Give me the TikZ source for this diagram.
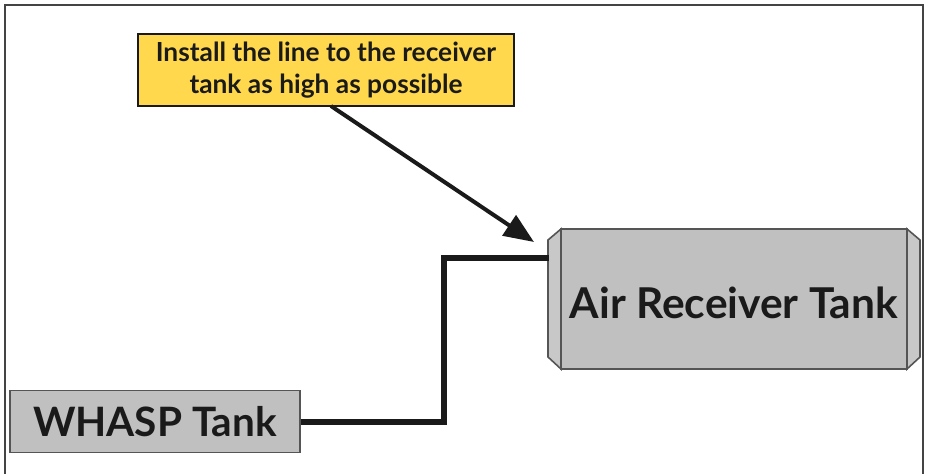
\documentclass[tikz,border=0pt]{standalone}
\usepackage{fontspec}
\setmainfont{Lato}
\usetikzlibrary{arrows.meta}
\definecolor{tankgray}{HTML}{C0C0C0}
\definecolor{capgray}{HTML}{C8C8C8}
\definecolor{edgegray}{HTML}{555555}
\definecolor{noteyellow}{HTML}{FFD84D}
\definecolor{inkdark}{HTML}{1A1A1A}
\tikzset{
  frameline/.style={draw=edgegray!80!black, line width=2pt},
  tankedge/.style={draw=edgegray, line width=1.6pt},
  tanklabel/.style={font=\bfseries\fontsize{40.5}{44}\selectfont, text=inkdark, inner sep=0pt},
  notebox/.style={draw=inkdark, line width=2pt, fill=noteyellow, minimum width=376pt, minimum height=72pt,
                  align=center, font=\bfseries\fontsize{26.3}{31.5}\selectfont, text=inkdark, inner sep=0pt},
  pipe/.style={draw=inkdark, line width=6pt},
  pointer/.style={draw=inkdark, line width=4pt, -{Triangle[length=30pt,width=24pt]}}
}
\begin{document}
\begin{tikzpicture}[x=1pt,y=-1pt]
\useasboundingbox (0,0) rectangle (927,474);
\fill[white] (0,0) rectangle (927,474);
% frame
\draw[frameline] (5,474) -- (5,5) -- (923,5) -- (923,474);
% air receiver tank body
\filldraw[tankedge, fill=tankgray] (561,229) rectangle (907,369);
\filldraw[tankedge, fill=capgray] (561,229) -- (548,240) -- (548,357) -- (561,369) -- cycle;
\filldraw[tankedge, fill=capgray] (907,229) -- (920,240) -- (920,357) -- (907,369) -- cycle;
\node[tanklabel, font=\bfseries\fontsize{42.5}{46}\selectfont] (air) at (734,303) {Air Receiver Tank};
\coordinate (airin) at (549,258);
% WHASP tank
\node[draw=edgegray, line width=1.6pt, fill=tankgray, minimum width=290pt, minimum height=62pt, inner sep=0pt] (whasp) at (155,421.5) {};
\node[tanklabel] (whasplabel) at (whasp.center) {WHASP Tank};
% pipe
\coordinate (bend1) at (444,421.5);
\coordinate (bend2) at (444,258);
\draw[pipe] (whasp.east) -- (bend1) -- (bend2) -- (airin);
% note
\node[notebox] (note) at (326,70) {Install the line to the receiver\\tank as high as possible};
\coordinate (tip) at (534,242);
\draw[pointer] (331,106) -- (tip);
\end{tikzpicture}
\end{document}
